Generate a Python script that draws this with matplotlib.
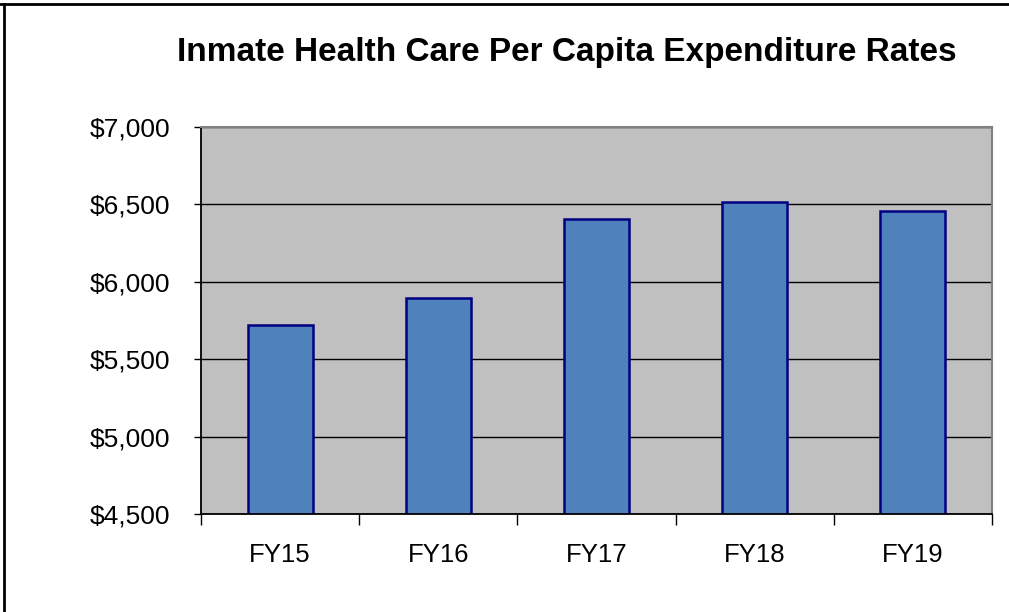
import matplotlib
matplotlib.use("Agg")
import matplotlib.pyplot as plt
from matplotlib.lines import Line2D
from matplotlib.ticker import FuncFormatter, MultipleLocator

categories = ["FY15", "FY16", "FY17", "FY18", "FY19"]
values = [5722, 5895, 6403, 6513, 6455]
title = "Inmate Health Care Per Capita Expenditure Rates"

plt.rcParams['font.family'] = ['Liberation Sans', 'DejaVu Sans']

W, H = 1009, 612
fig = plt.figure(figsize=(W / 100, H / 100), dpi=100)
fig.patch.set_facecolor("white")

ax = fig.add_axes([201 / W, 1 - 514 / H, (992 - 201) / W, (514 - 127) / H])
ax.set_facecolor("#C0C0C0")

x = list(range(len(categories)))
ax.bar(x, values, width=0.41, bottom=0, color="#4F81BD", edgecolor="#000080",
       linewidth=1.8, zorder=3)

ax.set_xlim(-0.5, len(categories) - 0.5)
ax.set_ylim(4500, 7000)
ax.yaxis.set_major_locator(MultipleLocator(500))
ax.yaxis.set_major_formatter(FuncFormatter(lambda v, p: "${:,.0f}".format(v)))
ax.yaxis.grid(True, color="black", linewidth=1.0, zorder=1)
ax.set_axisbelow(True)

# category ticks: minor ticks at boundaries, labels at centers
ax.set_xticks(x)
ax.set_xticklabels(categories)
ax.tick_params(axis="x", which="major", length=0, pad=21, labelsize=18.5)
ax.set_xticks([i - 0.5 for i in range(len(categories) + 1)], minor=True)
ax.tick_params(axis="x", which="minor", length=8, width=1, color="black", direction="out")
ax.tick_params(axis="y", length=5, width=1, color="black", direction="out", pad=17, labelsize=19)

ax.spines["left"].set_color("black")
ax.spines["left"].set_linewidth(1.3)
ax.spines["bottom"].set_color("black")
ax.spines["bottom"].set_linewidth(1.3)
ax.spines["top"].set_color("#808080")
ax.spines["top"].set_linewidth(1.5)
ax.spines["right"].set_color("#808080")
ax.spines["right"].set_linewidth(1.5)
for s in ax.spines.values():
    s.set_zorder(4)

fig.text(567 / W, 1 - 52 / H, title, ha="center", va="center",
         fontsize=24, fontweight="bold")

# figure frame (top and left edges visible)
fig.add_artist(Line2D([0, 1], [1 - 4 / H, 1 - 4 / H], transform=fig.transFigure,
                      color="black", linewidth=2))
fig.add_artist(Line2D([4 / W, 4 / W], [0, 1 - 4 / H], transform=fig.transFigure,
                      color="black", linewidth=2))

fig.savefig("out.png", dpi=100)
